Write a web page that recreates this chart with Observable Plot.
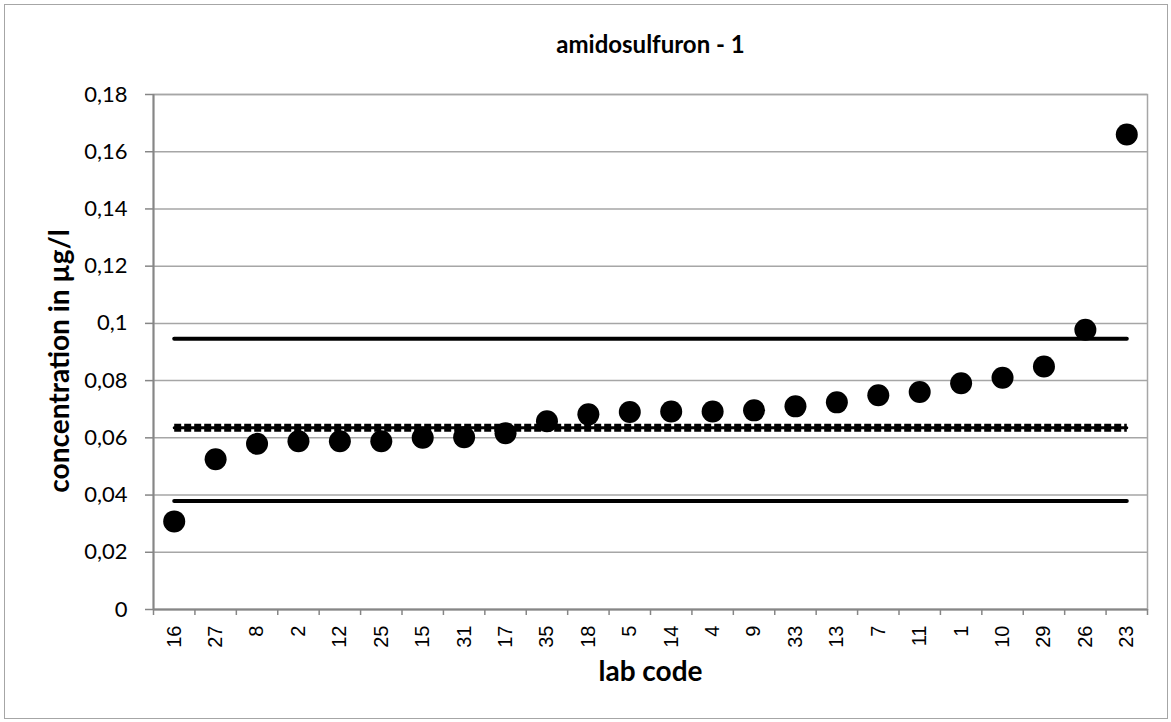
<!DOCTYPE html>
<html>
<head>
<meta charset="utf-8">
<script src="https://cdn.jsdelivr.net/npm/d3@7"></script>
<script src="https://cdn.jsdelivr.net/npm/@observablehq/plot@0.6"></script>
<style>
  html, body { margin: 0; padding: 0; background: #fff; }
  #wrap { position: relative; width: 1171px; height: 722px; }
  #border { position: absolute; left: 4px; top: 4px; width: 1162px; height: 713px; border: 1px solid #a6a6a6; pointer-events: none; }
  svg { display: block; }
</style>
</head>
<body>
<div id="wrap"><div id="border"></div></div>
<script>
const chartTitle = "amidosulfuron - 1";
const xLabel = "lab code";
const yLabel = "concentration in µg/l";
const labs = ["16","27","8","2","12","25","15","31","17","35","18","5","14","4","9","33","13","7","11","1","10","29","26","23"];
const values = [0.0308,0.0525,0.0579,0.0588,0.0588,0.0588,0.0600,0.0602,0.0616,0.0658,0.0682,0.0690,0.0692,0.0692,0.0696,0.0710,0.0724,0.0749,0.0760,0.0791,0.0810,0.0849,0.0978,0.1660];
const assignedValue = 0.0635;
const upperLimit = 0.0946;
const lowerLimit = 0.0379;
const yTicks = [0,0.02,0.04,0.06,0.08,0.1,0.12,0.14,0.16,0.18];

const W = 1171, H = 722;
const mL = 153, mR = 24, mT = 94, mB = 113;
const bw = (W - mL - mR) / labs.length;
const data = labs.map((lab, i) => ({lab, value: values[i]}));
const fmt = d => String(+d.toFixed(2)).replace(".", ",");
const grey = "#a6a6a6", axisGrey = "#868686";

const chart = Plot.plot({
  width: W, height: H,
  marginLeft: mL, marginRight: mR, marginTop: mT, marginBottom: mB,
  style: {fontFamily: "Lato, sans-serif", background: "transparent", color: "#000"},
  x: {type: "band", domain: labs, padding: 0, round: false, label: null},
  y: {domain: [0, 0.18], label: null},
  marks: [
    Plot.gridY(yTicks, {stroke: grey, strokeOpacity: 1, strokeWidth: 1.5}),
    Plot.frame({stroke: grey, strokeWidth: 1.5}),
    Plot.ruleY([0], {stroke: axisGrey, strokeWidth: 2}),
    Plot.ruleX([labs[0]], {dx: -bw / 2, stroke: axisGrey, strokeWidth: 2}),
    Plot.axisY({ticks: yTicks, tickFormat: fmt, tickSize: 8, tickPadding: 18, fontSize: 22, stroke: axisGrey, strokeWidth: 1.5, label: null}),
    Plot.axisX({ticks: labs, tickSize: 6, tickFormat: () => "", dx: -bw / 2, stroke: axisGrey, strokeWidth: 1.5, label: null}),
    Plot.axisX({ticks: [labs[labs.length - 1]], tickSize: 6, tickFormat: () => "", dx: bw / 2, stroke: axisGrey, strokeWidth: 1.5, label: null}),
    Plot.axisX({ticks: labs, tickSize: 0, tickPadding: 16, tickRotate: -90, fontSize: 20, fontFamily: "Liberation Sans, Arial, sans-serif", label: null}),
    Plot.lineY(labs, {x: d => d, y: () => upperLimit, stroke: "black", strokeWidth: 4, strokeLinecap: "round"}),
    Plot.lineY(labs, {x: d => d, y: () => lowerLimit, stroke: "black", strokeWidth: 4, strokeLinecap: "round"}),
    Plot.lineY(labs, {x: d => d, y: () => assignedValue, stroke: "black", strokeWidth: 8, strokeDasharray: "7,3", strokeLinecap: "butt"}),
    Plot.lineY(labs, {x: d => d, y: () => assignedValue, stroke: "black", strokeWidth: 3, strokeLinecap: "round"}),
    Plot.dot(data, {x: "lab", y: "value", r: 11, fill: "black", stroke: "none"}),
    Plot.text([chartTitle], {frameAnchor: "top", dy: -49, fontSize: 24, fontWeight: "bold", lineAnchor: "middle"}),
    Plot.text([xLabel], {frameAnchor: "bottom", dy: 63, fontSize: 28, fontWeight: "bold", lineAnchor: "middle"}),
    Plot.text([yLabel], {frameAnchor: "left", dx: -93, dy: 9, rotate: -90, fontSize: 28, fontWeight: "bold", textAnchor: "middle", lineAnchor: "middle"})
  ]
});
document.getElementById("wrap").prepend(chart);
</script>
</body>
</html>
